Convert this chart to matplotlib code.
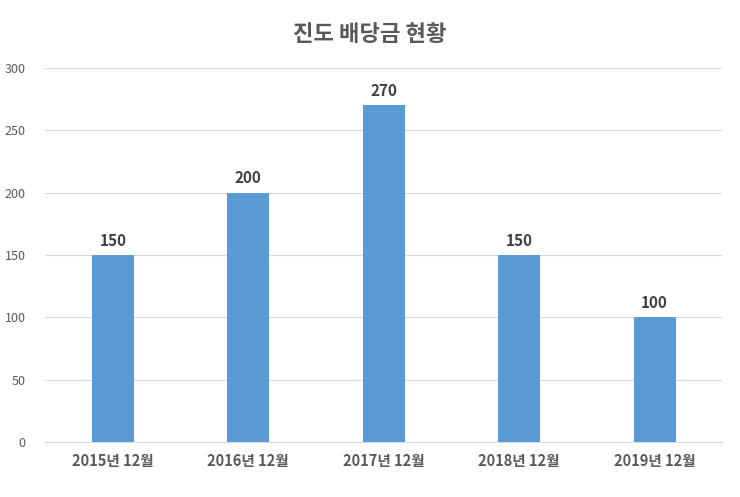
import matplotlib
matplotlib.use("Agg")
import matplotlib.pyplot as plt

plt.rcParams['font.family'] = ['Noto Sans CJK KR', 'DejaVu Sans']

# data
categories = ['2015년 12월', '2016년 12월', '2017년 12월', '2018년 12월', '2019년 12월']
dividends = [150, 200, 270, 150, 100]
yticks = [0, 50, 100, 150, 200, 250, 300]

gray = '#595959'
bar_color = '#5B9BD5'

fig = plt.figure(figsize=(7.4, 4.97), dpi=100)
ax = fig.add_axes([0.061, 0.111, 0.915, 0.752])

x = range(len(categories))
bars = ax.bar(x, dividends, width=0.31, color=bar_color, zorder=3)

for xi, v in zip(x, dividends):
    ax.text(xi, v + 5, str(v), ha='center', va='bottom', fontsize=11,
            fontweight='bold', color='#404040')

ax.set_xlim(-0.5, len(categories) - 0.5)
ax.set_ylim(0, 300)
ax.set_yticks(yticks)
ax.set_xticks(list(x))
ax.set_xticklabels(categories, fontsize=10.5, fontweight='bold', color=gray)
ax.tick_params(axis='y', labelsize=9, colors=gray, length=0, pad=14)
ax.tick_params(axis='x', length=0, pad=8)
ax.grid(axis='y', color='#D9D9D9', linewidth=0.8, zorder=0)

for s in ['top', 'right', 'left']:
    ax.spines[s].set_visible(False)
ax.spines['bottom'].set_color('#D9D9D9')

fig.text(0.5, 0.93, '진도 배당금 현황', ha='center', va='center', fontsize=16,
         fontweight='bold', color=gray)

fig.savefig('out.png', dpi=100)
